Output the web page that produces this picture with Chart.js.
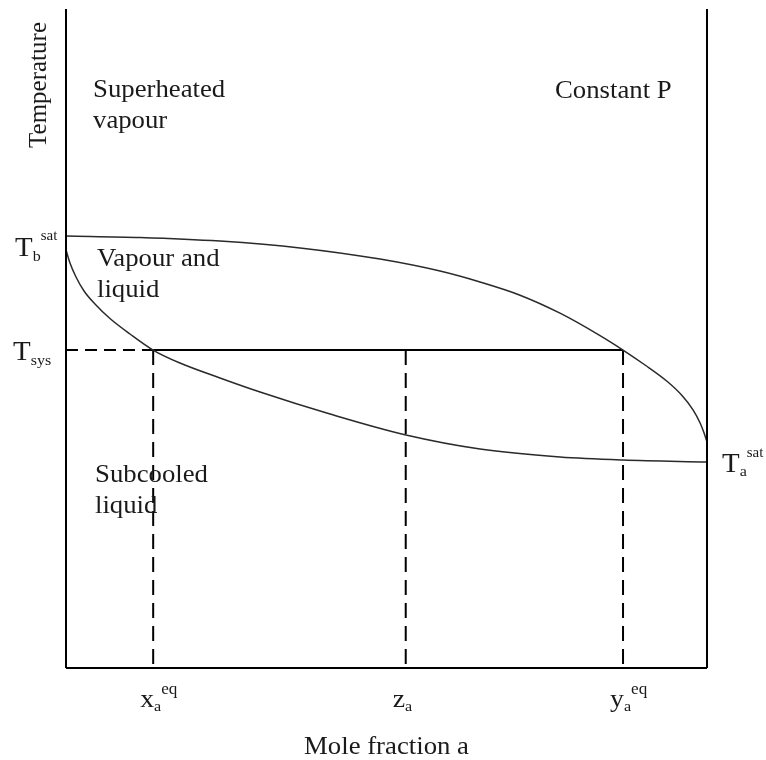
<!DOCTYPE html>
<html>
<head>
<meta charset="utf-8">
<script src="https://cdn.jsdelivr.net/npm/chart.js@4.4.1/dist/chart.umd.min.js"></script>
<style>
  html, body { margin: 0; padding: 0; background: #ffffff; }
  #wrap { width: 766px; height: 760px; position: relative; }
</style>
</head>
<body>
<div id="wrap"><canvas id="c" width="766" height="760"></canvas></div>
<script>
// ---- Data (x: mole fraction of a, 0..1; T: temperature, arbitrary 0..100) ----
const dewX = [0.000, 0.1154, 0.2402, 0.3651, 0.4899, 0.5835, 0.6459, 0.7083, 0.7707, 0.8331, 0.8690, 0.9033, 0.9376, 0.9610, 0.9782, 0.9891, 0.9953, 1.000];
const dewT = [65.55, 65.33, 64.78, 63.75, 62.05, 60.23, 58.57, 56.57, 53.84, 50.44, 48.25, 45.98, 43.51, 41.35, 39.18, 37.21, 35.69, 34.29];

const bubbleX = [0.000, 0.0062, 0.0156, 0.0281, 0.0452, 0.0686, 0.0998, 0.1357, 0.1778, 0.2402, 0.3027, 0.4119, 0.5304, 0.6459, 0.7707, 0.8690, 1.000];
const bubbleT = [63.43, 61.46, 59.33, 57.21, 55.24, 53.03, 50.68, 48.25, 46.28, 44.01, 41.88, 38.54, 35.36, 33.23, 32.02, 31.56, 31.26];

const Tsys = 48.25;
const TbSat = 65.55;
const TaSat = 31.26;
const xMarks = [0.136, 0.530, 0.869];          // x_a^eq, z_a, y_a^eq
const xMarkBase = ['x', 'z', 'y'];
const xMarkSub = ['a', 'a', 'a'];
const xMarkSup = ['eq', '', 'eq'];

const xTitle = 'Mole fraction a';
const yTitle = 'Temperature';
const regionLabels = [
  ['Superheated', 'vapour'],
  ['Constant P'],
  ['Vapour and', 'liquid'],
  ['Subcooled', 'liquid']
];

function pts(xs, ys) { return xs.map((x, i) => ({ x: x, y: ys[i] })); }

const INK = '#1a1a1a';
const SERIF = "'Liberation Serif', 'DejaVu Serif', serif";
const STRETCH = 1.07;

const datasets = [];
// frame (left, bottom, right)
datasets.push({ data: [{x:0,y:0},{x:0,y:100}], borderColor: '#000', borderWidth: 2 });
datasets.push({ data: [{x:0,y:0},{x:1,y:0}], borderColor: '#000', borderWidth: 2 });
datasets.push({ data: [{x:1,y:0},{x:1,y:100}], borderColor: '#000', borderWidth: 2 });
// dew and bubble curves
datasets.push({ data: pts(dewX, dewT), borderColor: '#2a2a2a', borderWidth: 1.5, cubicInterpolationMode: 'monotone' });
datasets.push({ data: pts(bubbleX, bubbleT), borderColor: '#2a2a2a', borderWidth: 1.5, cubicInterpolationMode: 'monotone' });
// T_sys line: dashed to x_a^eq, solid to y_a^eq
datasets.push({ data: [{x:0,y:Tsys},{x:xMarks[0],y:Tsys}], borderColor: '#000', borderWidth: 2, borderDash: [12, 7] });
datasets.push({ data: [{x:xMarks[0],y:Tsys},{x:xMarks[2],y:Tsys}], borderColor: '#000', borderWidth: 2 });
// vertical dashed drops
xMarks.forEach(m => {
  datasets.push({ data: [{x:m,y:Tsys},{x:m,y:0}], borderColor: '#000', borderWidth: 2, borderDash: [15, 8] });
});
datasets.forEach(d => { d.showLine = true; d.pointRadius = 0; d.pointHoverRadius = 0; d.clip = false; d.fill = false; d.tension = 0; });

function drawParts(ctx, parts, x, y, align) {
  let total = 0;
  parts.forEach(p => { ctx.font = p.size + 'px ' + SERIF; p.w = ctx.measureText(p.t).width * STRETCH; total += p.w; });
  let cx = align === 'center' ? x - total / 2 : (align === 'right' ? x - total : x);
  parts.forEach(p => {
    ctx.save();
    ctx.font = p.size + 'px ' + SERIF;
    ctx.textAlign = 'left';
    ctx.textBaseline = 'alphabetic';
    ctx.translate(cx, y + (p.dy || 0));
    ctx.scale(STRETCH, 1);
    ctx.fillText(p.t, 0, 0);
    ctx.restore();
    cx += p.w;
  });
}

const labelsPlugin = {
  id: 'labels',
  afterDatasetsDraw(chart) {
    const ctx = chart.ctx;
    const xs = chart.scales.x, ys = chart.scales.y;
    const L = xs.getPixelForValue(0), R = xs.getPixelForValue(1);
    const B = ys.getPixelForValue(0), Tp = ys.getPixelForValue(100);
    ctx.save();
    ctx.fillStyle = INK;

    // y-axis title (rotated)
    ctx.save();
    ctx.font = '25px ' + SERIF;
    ctx.textAlign = 'center';
    ctx.textBaseline = 'alphabetic';
    ctx.translate(L - 20, Tp + 76);
    ctx.rotate(-Math.PI / 2);
    ctx.fillText(yTitle, 0, 0);
    ctx.restore();

    // x-axis title
    drawParts(ctx, [{ t: xTitle, size: 25 }], (L + R) / 2, B + 86, 'center');

    // x-axis mark labels
    xMarks.forEach((m, i) => {
      const px = xs.getPixelForValue(m);
      const parts = [{ t: xMarkBase[i], size: 26 }, { t: xMarkSub[i], size: 15, dy: 4 }];
      if (xMarkSup[i]) parts.push({ t: xMarkSup[i], size: 16, dy: -13 });
      drawParts(ctx, parts, px - 13, B + 39, 'left');
    });

    // T labels
    const yb = ys.getPixelForValue(TbSat);
    drawParts(ctx, [{ t: 'T', size: 27 }, { t: 'b', size: 15, dy: 5 }, { t: 'sat', size: 14, dy: -16 }], L - 51, yb + 20, 'left');
    const ysy = ys.getPixelForValue(Tsys);
    drawParts(ctx, [{ t: 'T', size: 27 }, { t: 'sys', size: 15, dy: 5 }], L - 53, ysy + 10, 'left');
    const ya = ys.getPixelForValue(TaSat);
    drawParts(ctx, [{ t: 'T', size: 27 }, { t: 'a', size: 15, dy: 4 }, { t: 'sat', size: 14, dy: -15 }], R + 15, ya + 10, 'left');

    // region labels
    const reg = [
      [L + 27, Tp + 88],
      [L + 489, Tp + 89],
      [L + 31, Tp + 257],
      [L + 29, Tp + 473]
    ];
    regionLabels.forEach((lines, i) => {
      lines.forEach((t, j) => drawParts(ctx, [{ t: t, size: 25 }], reg[i][0], reg[i][1] + j * 31, 'left'));
    });
    ctx.restore();
  }
};

new Chart(document.getElementById('c'), {
  type: 'scatter',
  data: { datasets: datasets },
  options: {
    responsive: false,
    animation: false,
    devicePixelRatio: 1,
    layout: { padding: { left: 66, right: 59, top: 9, bottom: 92 } },
    plugins: { legend: { display: false }, tooltip: { enabled: false } },
    events: [],
    scales: {
      x: { type: 'linear', min: 0, max: 1, display: false },
      y: { type: 'linear', min: 0, max: 100, display: false }
    }
  },
  plugins: [labelsPlugin]
});
</script>
</body>
</html>
